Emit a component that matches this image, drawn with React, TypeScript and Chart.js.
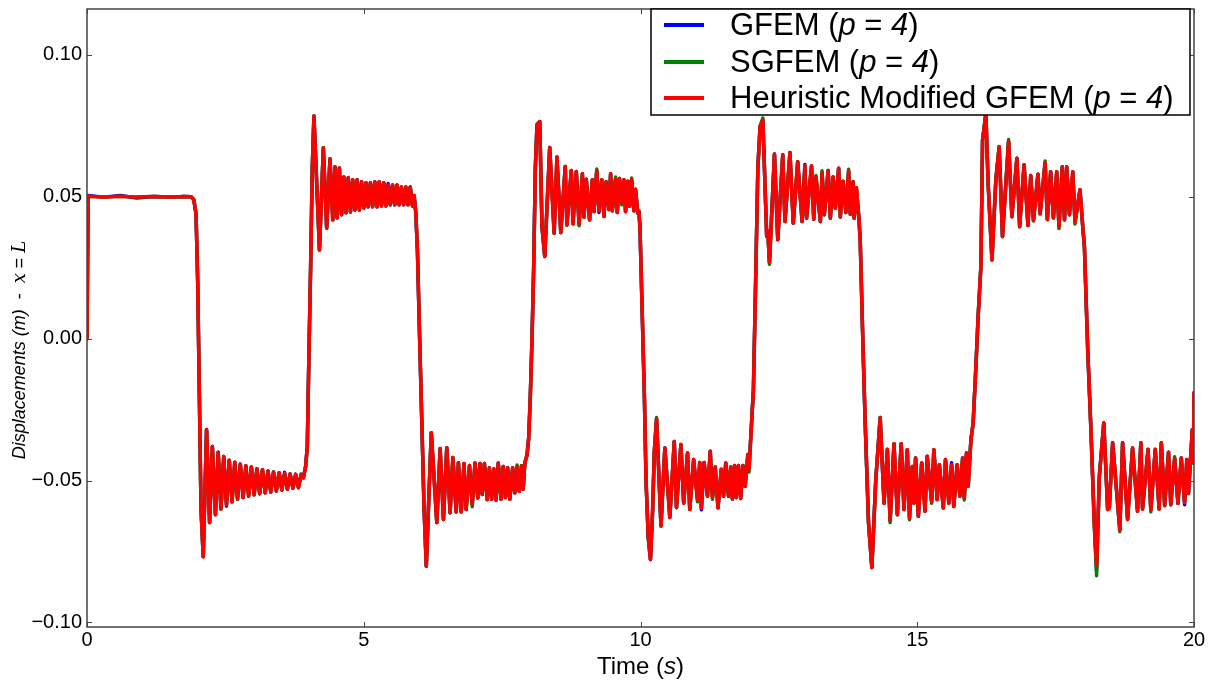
import React, { useEffect, useRef } from "react";
import { Chart, registerables } from "chart.js";

Chart.register(...registerables);

// Time (s)
const timeS = [
  0, 0.02, 0.3, 0.6, 0.9, 1.2, 1.5, 1.75, 1.88, 1.93, 1.97, 2.0, 2.03, 2.06,
  2.1, 2.16, 2.215, 2.265, 2.32, 2.37, 2.42, 2.47, 2.52, 2.57, 2.62, 2.67, 2.72, 2.77, 2.82, 2.87, 2.92, 2.97, 3.02, 3.07, 3.12, 3.17, 3.22, 3.27, 3.32, 3.37, 3.42, 3.47, 3.52, 3.57, 3.62, 3.67, 3.72, 3.77, 3.82, 3.87, 3.91, 3.95, 3.98, 4.01, 4.04, 4.07, 4.1,
  4.2, 4.27, 4.33, 4.39, 4.44, 4.48, 4.52, 4.56, 4.6, 4.64, 4.68, 4.72, 4.76, 4.8, 4.84, 4.88, 4.92, 4.96, 5.0, 5.04, 5.08, 5.12, 5.16, 5.2, 5.24, 5.28, 5.32, 5.36, 5.4, 5.44, 5.48, 5.52, 5.56, 5.6, 5.64, 5.68, 5.72, 5.76, 5.8, 5.84, 5.88, 5.91, 5.94, 5.97, 6.01, 6.05, 6.09, 6.13,
  6.22, 6.32, 6.38, 6.44, 6.5, 6.56, 6.61, 6.67, 6.71, 6.76, 6.81, 6.85, 6.91, 6.96, 7.01, 7.06, 7.1, 7.14, 7.18, 7.23, 7.27, 7.31, 7.35, 7.39, 7.43, 7.48, 7.52, 7.56, 7.6, 7.64, 7.69, 7.73, 7.77, 7.81, 7.85, 7.88, 7.91, 7.95, 7.98, 8.01, 8.04, 8.07, 8.1, 8.13,
  8.18, 8.22, 8.27, 8.36, 8.44, 8.49, 8.56, 8.64, 8.67, 8.75, 8.78, 8.84, 8.89, 8.95, 8.98, 9.02, 9.08, 9.13, 9.16, 9.21, 9.25, 9.3, 9.34, 9.38, 9.43, 9.46, 9.49, 9.55, 9.58, 9.62, 9.66, 9.7, 9.73, 9.77, 9.8, 9.84, 9.88, 9.91, 9.95, 9.97, 9.99, 10.03, 10.07, 10.1, 10.14, 10.18,
  10.22, 10.25, 10.29, 10.37, 10.44, 10.53, 10.61, 10.65, 10.73, 10.78, 10.85, 10.89, 10.96, 11.03, 11.07, 11.1, 11.15, 11.21, 11.26, 11.3, 11.35, 11.4, 11.46, 11.5, 11.54, 11.59, 11.63, 11.66, 11.7, 11.73, 11.77, 11.81, 11.85, 11.89, 11.94, 11.96, 12.0, 12.04, 12.08, 12.12, 12.16,
  12.21, 12.28, 12.3, 12.33, 12.42, 12.48, 12.57, 12.61, 12.7, 12.76, 12.84, 12.92, 12.97, 13.0, 13.09, 13.13, 13.17, 13.25, 13.28, 13.32, 13.39, 13.43, 13.48, 13.52, 13.58, 13.61, 13.66, 13.71, 13.76, 13.79, 13.84, 13.86, 13.9, 13.95, 13.97, 14.02, 14.06, 14.12, 14.18,
  14.25, 14.33, 14.4, 14.46, 14.51, 14.58, 14.64, 14.71, 14.76, 14.82, 14.86, 14.91, 14.94, 14.97, 15.02, 15.08, 15.14, 15.18, 15.26, 15.3, 15.36, 15.4, 15.47, 15.51, 15.57, 15.62, 15.66, 15.72, 15.77, 15.82, 15.85, 15.89, 15.92, 15.97, 16.01, 16.06, 16.1, 16.15, 16.18, 16.24,
  16.28, 16.35, 16.42, 16.48, 16.54, 16.65, 16.71, 16.8, 16.85, 16.93, 17.0, 17.05, 17.1, 17.18, 17.22, 17.31, 17.35, 17.41, 17.46, 17.52, 17.56, 17.62, 17.66, 17.7, 17.75, 17.81, 17.85, 17.94, 17.99, 18.02, 18.08, 18.14, 18.2, 18.24,
  18.29, 18.37, 18.44, 18.47, 18.53, 18.66, 18.71, 18.8, 18.89, 18.98, 19.04, 19.07, 19.17, 19.22, 19.3, 19.37, 19.41, 19.47, 19.54, 19.58, 19.65, 19.71, 19.77, 19.83, 19.87, 19.9, 19.97, 19.99, 20.0,
];

// GFEM (p = 4) displacement at x = L (m)
const gfemDisp = [
  0, 0.0505, 0.0499, 0.0505, 0.0496, 0.0501, 0.0499, 0.0501, 0.05, 0.049, 0.044, 0.02, -0.02, -0.06,
  -0.0768, -0.032, -0.0648, -0.038, -0.062, -0.04, -0.06, -0.0415, -0.059, -0.0428, -0.0575, -0.0435, -0.0565, -0.0442, -0.056, -0.0448, -0.0555, -0.0452, -0.055, -0.0458, -0.0546, -0.0462, -0.0543, -0.0466, -0.054, -0.047, -0.0537, -0.0472, -0.0533, -0.0471, -0.053, -0.0477, -0.0527, -0.0478, -0.0525, -0.0478, -0.049, -0.045, -0.038, -0.005, 0.025, 0.06, 0.0785,
  0.0313, 0.0673, 0.039, 0.0634, 0.0419, 0.0606, 0.0426, 0.0602, 0.0437, 0.057, 0.0444, 0.0567, 0.0447, 0.056, 0.0454, 0.056, 0.0454, 0.0553, 0.0461, 0.055, 0.0465, 0.055, 0.0465, 0.0553, 0.0465, 0.0553, 0.0468, 0.055, 0.0468, 0.0547, 0.0472, 0.0542, 0.0472, 0.0542, 0.0472, 0.0535, 0.0472, 0.0535, 0.0472, 0.0535, 0.0468, 0.0505, 0.0445, 0.031, 0, -0.03, -0.06, -0.0802,
  -0.0331, -0.0648, -0.0387, -0.0637, -0.0384, -0.0613, -0.0419, -0.061, -0.0437, -0.061, -0.044, -0.0602, -0.0447, -0.0584, -0.0438, -0.0561, -0.044, -0.0549, -0.044, -0.0567, -0.0455, -0.0565, -0.0459, -0.0569, -0.0438, -0.0565, -0.045, -0.056, -0.0455, -0.0565, -0.0455, -0.0543, -0.0452, -0.0538, -0.0448, -0.053, -0.0438, -0.041, -0.035, -0.02, 0, 0.025, 0.06, 0.0754,
  0.0765, 0.0395, 0.029, 0.0674, 0.0372, 0.064, 0.0374, 0.0607, 0.0401, 0.0593, 0.0405, 0.0589, 0.0405, 0.0581, 0.0428, 0.0562, 0.0419, 0.056, 0.0448, 0.0592, 0.0445, 0.056, 0.0431, 0.0553, 0.0455, 0.0581, 0.0451, 0.0562, 0.0445, 0.0565, 0.0479, 0.056, 0.0448, 0.0555, 0.0467, 0.056, 0.0451, 0.0527, 0.0444, 0.045, 0.0395, 0.01, -0.02, -0.05, -0.07, -0.0778,
  -0.06, -0.0397, -0.0283, -0.066, -0.0385, -0.063, -0.0362, -0.0595, -0.0373, -0.0579, -0.0403, -0.0602, -0.0426, -0.0567, -0.0436, -0.0603, -0.0436, -0.0555, -0.0397, -0.0558, -0.0452, -0.0596, -0.046, -0.0555, -0.0438, -0.0555, -0.0452, -0.0565, -0.0447, -0.056, -0.0447, -0.0563, -0.0447, -0.052, -0.0408, -0.046, -0.032, -0.018, 0.02, 0.06, 0.0748,
  0.0771, 0.036, 0.038, 0.0269, 0.0651, 0.0349, 0.0648, 0.0413, 0.0656, 0.0407, 0.0624, 0.0413, 0.0614, 0.0425, 0.0609, 0.0421, 0.0569, 0.0413, 0.0585, 0.0437, 0.0593, 0.0425, 0.057, 0.046, 0.0601, 0.0429, 0.0555, 0.0445, 0.059, 0.0439, 0.0553, 0.0425, 0.0532, 0.0417, 0.0343, -0.003, -0.03, -0.065, -0.0806,
  -0.05, -0.0278, -0.058, -0.039, -0.064, -0.037, -0.062, -0.037, -0.0602, -0.0391, -0.0631, -0.045, -0.058, -0.042, -0.0626, -0.0438, -0.0608, -0.0414, -0.0573, -0.0391, -0.0567, -0.0444, -0.0596, -0.0426, -0.0579, -0.0437, -0.0591, -0.0444, -0.0555, -0.042, -0.0561, -0.0403, -0.052, -0.0356, -0.0297, -0.0097, 0.0079, 0.0255, 0.07, 0.0795,
  0.0549, 0.0278, 0.056, 0.0677, 0.036, 0.0695, 0.043, 0.0636, 0.0395, 0.0613, 0.0399, 0.0575, 0.0416, 0.058, 0.044, 0.0619, 0.042, 0.0588, 0.0426, 0.0588, 0.0395, 0.0606, 0.0419, 0.0606, 0.0437, 0.0588, 0.0412, 0.0525, 0.0395, 0.0325, -0.0039, -0.0332, -0.066, -0.0815,
  -0.0485, -0.0297, -0.0602, -0.0597, -0.0367, -0.0673, -0.0367, -0.0637, -0.0385, -0.0608, -0.0367, -0.06, -0.039, -0.0602, -0.039, -0.06, -0.0367, -0.0588, -0.04, -0.0585, -0.0423, -0.058, -0.042, -0.0585, -0.0426, -0.0545, -0.032, -0.0433, -0.019,
];

// SGFEM (p = 4) displacement at x = L (m)
const sgfemDisp = [
  0, 0.0502, 0.0499, 0.0502, 0.0499, 0.0501, 0.0499, 0.0501, 0.05, 0.049, 0.044, 0.02, -0.02, -0.06,
  -0.0768, -0.032, -0.0648, -0.038, -0.062, -0.04, -0.06, -0.0415, -0.0585, -0.0428, -0.0575, -0.0435, -0.0565, -0.0442, -0.056, -0.0448, -0.0555, -0.0452, -0.055, -0.0458, -0.0546, -0.0462, -0.0543, -0.0466, -0.054, -0.047, -0.0537, -0.0472, -0.0533, -0.0475, -0.053, -0.0477, -0.0527, -0.0478, -0.0525, -0.0478, -0.049, -0.045, -0.038, -0.005, 0.025, 0.06, 0.0785,
  0.0313, 0.0673, 0.039, 0.0634, 0.0419, 0.0606, 0.0426, 0.0602, 0.0437, 0.057, 0.0444, 0.0567, 0.0447, 0.056, 0.0454, 0.056, 0.0454, 0.0553, 0.0461, 0.055, 0.0465, 0.055, 0.0465, 0.0553, 0.0465, 0.0553, 0.0468, 0.055, 0.0468, 0.0542, 0.0472, 0.0542, 0.0472, 0.0542, 0.0472, 0.0535, 0.0472, 0.0535, 0.0472, 0.0535, 0.0468, 0.0505, 0.0445, 0.031, 0, -0.03, -0.06, -0.0802,
  -0.0331, -0.0648, -0.0387, -0.0637, -0.0384, -0.0613, -0.0419, -0.061, -0.0437, -0.061, -0.044, -0.0602, -0.0447, -0.0592, -0.0438, -0.0561, -0.044, -0.0549, -0.044, -0.0567, -0.0455, -0.0565, -0.0459, -0.0569, -0.0438, -0.0565, -0.045, -0.056, -0.0455, -0.0565, -0.0455, -0.0543, -0.0445, -0.0538, -0.0448, -0.053, -0.0438, -0.041, -0.035, -0.02, 0, 0.025, 0.06, 0.0754,
  0.0765, 0.0395, 0.029, 0.0674, 0.0372, 0.064, 0.0374, 0.0607, 0.0401, 0.0593, 0.0405, 0.0589, 0.0398, 0.0581, 0.0428, 0.0562, 0.0419, 0.056, 0.0448, 0.0598, 0.0451, 0.056, 0.0431, 0.0553, 0.0455, 0.0581, 0.0451, 0.057, 0.0445, 0.0565, 0.0472, 0.056, 0.0448, 0.0555, 0.0467, 0.0566, 0.0451, 0.0527, 0.0444, 0.045, 0.0395, 0.01, -0.02, -0.05, -0.07, -0.0778,
  -0.06, -0.0397, -0.0278, -0.066, -0.0385, -0.063, -0.0362, -0.0595, -0.0373, -0.0579, -0.0403, -0.0602, -0.0426, -0.0575, -0.0436, -0.0596, -0.0436, -0.0555, -0.0397, -0.0566, -0.0452, -0.0596, -0.046, -0.0555, -0.0438, -0.0555, -0.0452, -0.0565, -0.0447, -0.056, -0.0447, -0.0563, -0.0447, -0.052, -0.0408, -0.047, -0.032, -0.018, 0.02, 0.06, 0.0748,
  0.0778, 0.036, 0.038, 0.0262, 0.0651, 0.0349, 0.0648, 0.0413, 0.0656, 0.0407, 0.0624, 0.0413, 0.0609, 0.0425, 0.0609, 0.0421, 0.0575, 0.0413, 0.0592, 0.0437, 0.0593, 0.0425, 0.057, 0.046, 0.0601, 0.0429, 0.0555, 0.0445, 0.0597, 0.0439, 0.0553, 0.0425, 0.0532, 0.0405, 0.0343, -0.003, -0.03, -0.065, -0.0806,
  -0.05, -0.0278, -0.058, -0.039, -0.0648, -0.037, -0.062, -0.037, -0.0602, -0.0391, -0.0638, -0.045, -0.058, -0.042, -0.0626, -0.0438, -0.0608, -0.0414, -0.058, -0.0391, -0.0567, -0.0444, -0.0596, -0.0426, -0.0579, -0.0444, -0.0591, -0.0444, -0.0555, -0.042, -0.0568, -0.0403, -0.052, -0.0356, -0.0297, -0.0097, 0.0079, 0.0255, 0.07, 0.0795,
  0.0549, 0.0278, 0.056, 0.0677, 0.036, 0.0702, 0.043, 0.0636, 0.0395, 0.0613, 0.0399, 0.0575, 0.0416, 0.058, 0.044, 0.0626, 0.042, 0.0588, 0.0426, 0.0588, 0.0388, 0.0606, 0.0419, 0.0606, 0.0437, 0.0588, 0.0404, 0.0525, 0.0395, 0.0325, -0.0039, -0.0332, -0.066, -0.0835,
  -0.0485, -0.0297, -0.0602, -0.0597, -0.0367, -0.068, -0.0367, -0.0637, -0.0385, -0.0608, -0.0367, -0.06, -0.039, -0.061, -0.039, -0.06, -0.0367, -0.0588, -0.04, -0.0585, -0.0416, -0.058, -0.042, -0.0577, -0.0426, -0.0545, -0.032, -0.044, -0.019,
];

// Heuristic Modified GFEM (p = 4) displacement at x = L (m)
const heurDisp = [
  0, 0.0502, 0.0499, 0.0502, 0.0499, 0.0501, 0.0499, 0.0501, 0.05, 0.049, 0.044, 0.02, -0.02, -0.06,
  -0.0768, -0.032, -0.0648, -0.038, -0.062, -0.04, -0.06, -0.0415, -0.0585, -0.0428, -0.0575, -0.0435, -0.0565, -0.0442, -0.056, -0.0448, -0.0555, -0.0452, -0.055, -0.0458, -0.0546, -0.0462, -0.0543, -0.0466, -0.054, -0.047, -0.0537, -0.0472, -0.0533, -0.0475, -0.053, -0.0477, -0.0527, -0.0478, -0.0525, -0.0478, -0.049, -0.045, -0.038, -0.005, 0.025, 0.06, 0.0785,
  0.0313, 0.0673, 0.039, 0.0634, 0.0419, 0.0606, 0.0426, 0.0602, 0.0437, 0.057, 0.0444, 0.0567, 0.0447, 0.056, 0.0454, 0.056, 0.0454, 0.0553, 0.0461, 0.055, 0.0465, 0.055, 0.0465, 0.0553, 0.0465, 0.0553, 0.0468, 0.055, 0.0468, 0.0542, 0.0472, 0.0542, 0.0472, 0.0542, 0.0472, 0.0535, 0.0472, 0.0535, 0.0472, 0.0535, 0.0468, 0.0505, 0.0445, 0.031, 0, -0.03, -0.06, -0.0802,
  -0.0331, -0.0648, -0.0387, -0.0637, -0.0384, -0.0613, -0.0419, -0.061, -0.0437, -0.061, -0.044, -0.0602, -0.0447, -0.0584, -0.0438, -0.0561, -0.044, -0.0549, -0.044, -0.0567, -0.0455, -0.0565, -0.0459, -0.0569, -0.0438, -0.0565, -0.045, -0.056, -0.0455, -0.0565, -0.0455, -0.0543, -0.0452, -0.0538, -0.0448, -0.053, -0.0438, -0.041, -0.035, -0.02, 0, 0.025, 0.06, 0.0754,
  0.0765, 0.0395, 0.029, 0.0674, 0.0372, 0.064, 0.0374, 0.0607, 0.0401, 0.0593, 0.0405, 0.0589, 0.0405, 0.0581, 0.0428, 0.0562, 0.0419, 0.056, 0.0448, 0.0592, 0.0451, 0.056, 0.0431, 0.0553, 0.0455, 0.0581, 0.0451, 0.0562, 0.0445, 0.0565, 0.0479, 0.056, 0.0448, 0.0555, 0.0467, 0.056, 0.0451, 0.0527, 0.0444, 0.045, 0.0395, 0.01, -0.02, -0.05, -0.07, -0.0778,
  -0.06, -0.0397, -0.0283, -0.066, -0.0385, -0.063, -0.0362, -0.0595, -0.0373, -0.0579, -0.0403, -0.0602, -0.0426, -0.0567, -0.0436, -0.0596, -0.0436, -0.0555, -0.0397, -0.0558, -0.0452, -0.0596, -0.046, -0.0555, -0.0438, -0.0555, -0.0452, -0.0565, -0.0447, -0.056, -0.0447, -0.0563, -0.0447, -0.052, -0.0408, -0.046, -0.032, -0.018, 0.02, 0.06, 0.0748,
  0.0771, 0.036, 0.038, 0.0269, 0.0651, 0.0349, 0.0648, 0.0413, 0.0656, 0.0407, 0.0624, 0.0413, 0.0609, 0.0425, 0.0609, 0.0421, 0.0569, 0.0413, 0.0585, 0.0437, 0.0593, 0.0425, 0.057, 0.046, 0.0601, 0.0429, 0.0555, 0.0445, 0.059, 0.0439, 0.0553, 0.0425, 0.0532, 0.0417, 0.0343, -0.003, -0.03, -0.065, -0.0806,
  -0.05, -0.0278, -0.058, -0.039, -0.064, -0.037, -0.062, -0.037, -0.0602, -0.0391, -0.0631, -0.045, -0.058, -0.042, -0.0626, -0.0438, -0.0608, -0.0414, -0.0573, -0.0391, -0.0567, -0.0444, -0.0596, -0.0426, -0.0579, -0.0444, -0.0591, -0.0444, -0.0555, -0.042, -0.0561, -0.0403, -0.052, -0.0356, -0.0297, -0.0097, 0.0079, 0.0255, 0.07, 0.0795,
  0.0549, 0.0278, 0.056, 0.0677, 0.036, 0.0695, 0.043, 0.0636, 0.0395, 0.0613, 0.0399, 0.0575, 0.0416, 0.058, 0.044, 0.0619, 0.042, 0.0588, 0.0426, 0.0588, 0.0395, 0.0606, 0.0419, 0.0606, 0.0437, 0.0588, 0.0412, 0.0525, 0.0395, 0.0325, -0.0039, -0.0332, -0.066, -0.08,
  -0.0485, -0.0297, -0.0602, -0.0597, -0.0367, -0.0673, -0.0367, -0.0637, -0.0385, -0.0608, -0.0367, -0.06, -0.039, -0.0602, -0.039, -0.06, -0.0367, -0.0588, -0.04, -0.0585, -0.0423, -0.058, -0.042, -0.0577, -0.0426, -0.0545, -0.032, -0.0433, -0.019,
];

const xTicks = [0, 5, 10, 15, 20];
const xTickLabels = ["0", "5", "10", "15", "20"];
const yTicks = [-0.1, -0.05, 0, 0.05, 0.1];
const yTickLabels = ["\u22120.10", "\u22120.05", "0.00", "0.05", "0.10"];

const seriesColors = ["#0000ff", "#008000", "#ff0000"];
// legend labels: [text, italic]
const legendLabels: [string, boolean][][] = [
  [["GFEM (", false], ["p", true], [" = ", false], ["4", true], [")", false]],
  [["SGFEM (", false], ["p", true], [" = ", false], ["4", true], [")", false]],
  [["Heuristic Modified GFEM (", false], ["p", true], [" = ", false], ["4", true], [")", false]],
];

const SANS = "'Liberation Sans', Arial, sans-serif";

function drawParts(ctx: CanvasRenderingContext2D, parts: [string, boolean, string?][], x: number, y: number, size: number, align: "left" | "center") {
  const fontFor = (it: boolean, fam?: string) => `${it ? "italic " : ""}${size}px ${fam || SANS}`;
  let total = 0;
  for (const [t, it, fam] of parts) {
    ctx.font = fontFor(it, fam);
    total += ctx.measureText(t).width;
  }
  let cx = align === "center" ? x - total / 2 : x;
  ctx.textAlign = "left";
  ctx.textBaseline = "middle";
  for (const [t, it, fam] of parts) {
    ctx.font = fontFor(it, fam);
    ctx.fillText(t, cx, y);
    cx += ctx.measureText(t).width;
  }
}

const decorPlugin = {
  id: "decor",
  afterDatasetsDraw(chart: any) {
    const { ctx, chartArea: a, scales } = chart;
    ctx.save();
    // frame
    ctx.strokeStyle = "#444";
    ctx.lineWidth = 1.5;
    ctx.strokeRect(a.left, a.top, a.right - a.left, a.bottom - a.top);
    // inward ticks on all sides
    ctx.lineWidth = 1;
    ctx.beginPath();
    for (const v of xTicks) {
      const x = Math.round(scales.x.getPixelForValue(v)) + 0.5;
      ctx.moveTo(x, a.bottom); ctx.lineTo(x, a.bottom - 5);
      ctx.moveTo(x, a.top); ctx.lineTo(x, a.top + 5);
    }
    for (const v of yTicks) {
      const y = Math.round(scales.y.getPixelForValue(v)) + 0.5;
      ctx.moveTo(a.left, y); ctx.lineTo(a.left + 5, y);
      ctx.moveTo(a.right, y); ctx.lineTo(a.right - 5, y);
    }
    ctx.stroke();

    // legend
    const bx = 651, by = a.top, bw = 539, bh = 106;
    ctx.fillStyle = "#ffffff";
    ctx.fillRect(bx, by, bw, bh);
    ctx.strokeStyle = "#000";
    ctx.lineWidth = 1.5;
    ctx.strokeRect(bx, by, bw, bh);
    const rows = [by + 16, by + 53, by + 89];
    legendLabels.forEach((parts, i) => {
      ctx.strokeStyle = seriesColors[i];
      ctx.lineWidth = 4;
      ctx.beginPath();
      ctx.moveTo(664, rows[i]);
      ctx.lineTo(704, rows[i]);
      ctx.stroke();
      ctx.fillStyle = "#000";
      drawParts(ctx, parts, 730, rows[i] + 1, 31, "left");
    });

    // x title
    ctx.fillStyle = "#000";
    drawParts(ctx, [["Time (", false], ["s", true], [")", false]], (a.left + a.right) / 2, 667, 24, "center");
    // y title
    ctx.save();
    ctx.translate(20, 350);
    ctx.rotate(-Math.PI / 2);
    drawParts(
      ctx,
      [["Displacements (m)", true], ["  -  ", false], ["x", true, "'DejaVu Serif', serif"], [" = ", false], ["L", true, "'DejaVu Serif', serif"]],
      0, 0, 18, "center"
    );
    ctx.restore();
    ctx.restore();
  },
};

export default function App() {
  const canvasRef = useRef<HTMLCanvasElement | null>(null);

  useEffect(() => {
    const canvas = canvasRef.current;
    if (!canvas) return;
    const mk = (arr: number[]) => timeS.map((t, i) => ({ x: t, y: arr[i] }));
    const lineStyle = { borderWidth: 3.5, pointRadius: 0, tension: 0, borderJoinStyle: "round" as const, borderCapStyle: "round" as const };
    const chart = new Chart(canvas, {
      type: "line",
      data: {
        datasets: [
          { label: "GFEM (p = 4)", data: mk(gfemDisp), borderColor: seriesColors[0], order: 2, ...lineStyle },
          { label: "SGFEM (p = 4)", data: mk(sgfemDisp), borderColor: seriesColors[1], order: 1, ...lineStyle },
          { label: "Heuristic Modified GFEM (p = 4)", data: mk(heurDisp), borderColor: seriesColors[2], order: 0, ...lineStyle },
        ],
      },
      options: {
        responsive: false,
        animation: false,
        devicePixelRatio: 1,
        events: [],
        layout: { padding: { top: 9, right: 18, bottom: 0, left: 0 } },
        plugins: { legend: { display: false }, tooltip: { enabled: false } },
        scales: {
          x: {
            type: "linear",
            min: 0,
            max: 20,
            grid: { display: false, drawTicks: false },
            border: { display: false },
            afterBuildTicks: (s: any) => { s.ticks = xTicks.map((v) => ({ value: v })); },
            afterFit: (s: any) => { s.height = 56; s.paddingLeft = 0; s.paddingRight = 0; s.paddingTop = 0; s.paddingBottom = 0; },
            ticks: {
              padding: 1,
              color: "#000",
              font: { family: SANS, size: 20 },
              maxRotation: 0,
              callback: (v: any) => xTickLabels[xTicks.indexOf(Number(v))],
            },
          },
          y: {
            type: "linear",
            min: -0.1016,
            max: 0.1162,
            grid: { display: false, drawTicks: false },
            border: { display: false },
            afterBuildTicks: (s: any) => { s.ticks = yTicks.map((v) => ({ value: v })); },
            afterFit: (s: any) => { s.width = 87; s.paddingTop = 0; s.paddingBottom = 0; s.paddingLeft = 0; s.paddingRight = 0; },
            ticks: {
              padding: 5,
              color: "#000",
              font: { family: SANS, size: 20 },
              callback: (v: any) => {
                const idx = yTicks.findIndex((t) => Math.abs(t - Number(v)) < 1e-9);
                return idx >= 0 ? yTickLabels[idx] : "";
              },
            },
          },
        },
      },
      plugins: [decorPlugin],
    });
    return () => chart.destroy();
  }, []);

  return (
    <div style={{ position: "absolute", left: 0, top: 0, width: 1212, height: 683, background: "#fff" }}>
      <canvas ref={canvasRef} width={1212} height={683} style={{ display: "block" }} />
    </div>
  );
}
